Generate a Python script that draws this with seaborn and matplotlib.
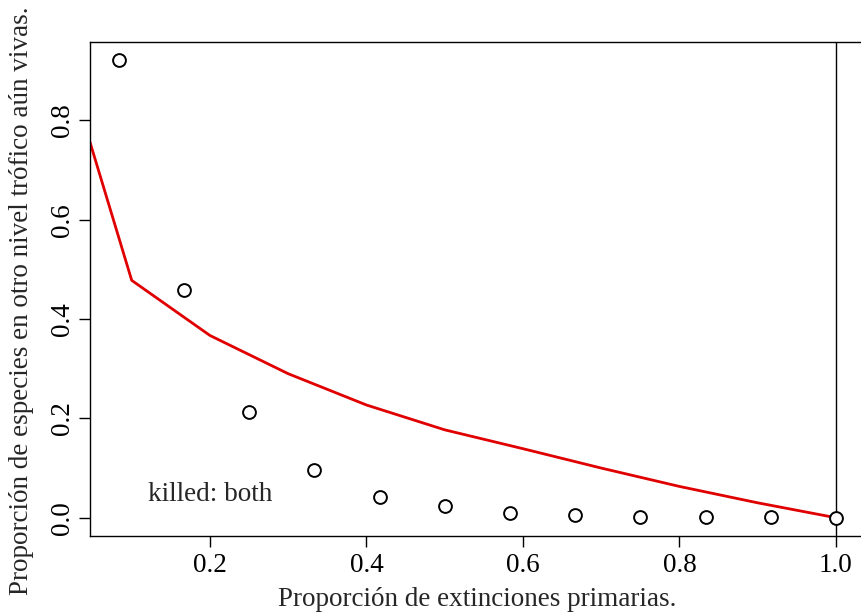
import numpy as np
import pandas as pd
import seaborn as sns
import matplotlib
matplotlib.use("Agg")
import matplotlib.pyplot as plt

# --- dati ---
prop_x = [1/12, 2/12, 3/12, 4/12, 5/12, 6/12, 7/12, 8/12, 9/12, 10/12, 11/12, 1.0]
prop_y = [0.921, 0.458, 0.213, 0.096, 0.042, 0.024, 0.010, 0.006, 0.002, 0.002, 0.001, 0.0]

curve_x = [0.0, 0.1, 0.2, 0.3, 0.4, 0.5, 0.6, 0.7, 0.8, 0.9, 1.0]
curve_y = [1.0, 0.478, 0.367, 0.290, 0.227, 0.177, 0.139, 0.100, 0.063, 0.030, 0.0]

x_ticks = [0.2, 0.4, 0.6, 0.8, 1.0]
y_ticks = [0.0, 0.2, 0.4, 0.6, 0.8]

pts = pd.DataFrame({"x": prop_x, "y": prop_y})
curve = pd.DataFrame({"x": curve_x, "y": curve_y})

sns.set_style("ticks")
plt.rcParams['font.family'] = ['Liberation Serif', 'DejaVu Serif']
plt.rcParams['axes.linewidth'] = 1.0

FS = 19.5

fig = plt.figure(figsize=(8.62, 6.16), dpi=100)
W, H = 862, 616
ax = fig.add_axes([90 / W, (H - 536) / H, 774.7 / W, 494 / H])

sns.lineplot(data=curve, x="x", y="y", color="#e00000", linewidth=2.0, ax=ax, zorder=2)
sns.scatterplot(data=pts, x="x", y="y", marker="o", s=85, facecolor="white",
                edgecolor="black", linewidth=1.4, ax=ax, zorder=3)
ax.axvline(1.0, color="black", linewidth=1.0, zorder=1)

ax.set_xlim(0.0467, 1.0367)
ax.set_ylim(-0.0368, 0.958)
ax.set_xticks(x_ticks)
ax.set_xticklabels([f"{v:.1f}" for v in x_ticks])
ax.set_yticks(y_ticks)
ax.set_yticklabels([f"{v:.1f}" for v in y_ticks], rotation=90, va="center")
ax.tick_params(axis="both", direction="out", length=8, width=1.0, labelsize=FS, colors="black")
ax.tick_params(axis="x", pad=4)
ax.tick_params(axis="y", pad=3)

ax.text(0.2, 0.046, "killed: both", fontsize=FS, ha="center", va="center")

ax.set_xlabel("")
ax.set_ylabel("")
fig.text(477 / W, 1 - 599 / H, "Proporción de extinciones primarias.", fontsize=FS, ha="center", va="center")
fig.text(22 / W, 1 - 301 / H, "Proporción de especies en otro nivel trófico aún vivas.", fontsize=FS,
         rotation=90, ha="center", va="center")

for spine in ax.spines.values():
    spine.set_visible(True)
    spine.set_edgecolor("black")

fig.savefig("out.png", dpi=100)
